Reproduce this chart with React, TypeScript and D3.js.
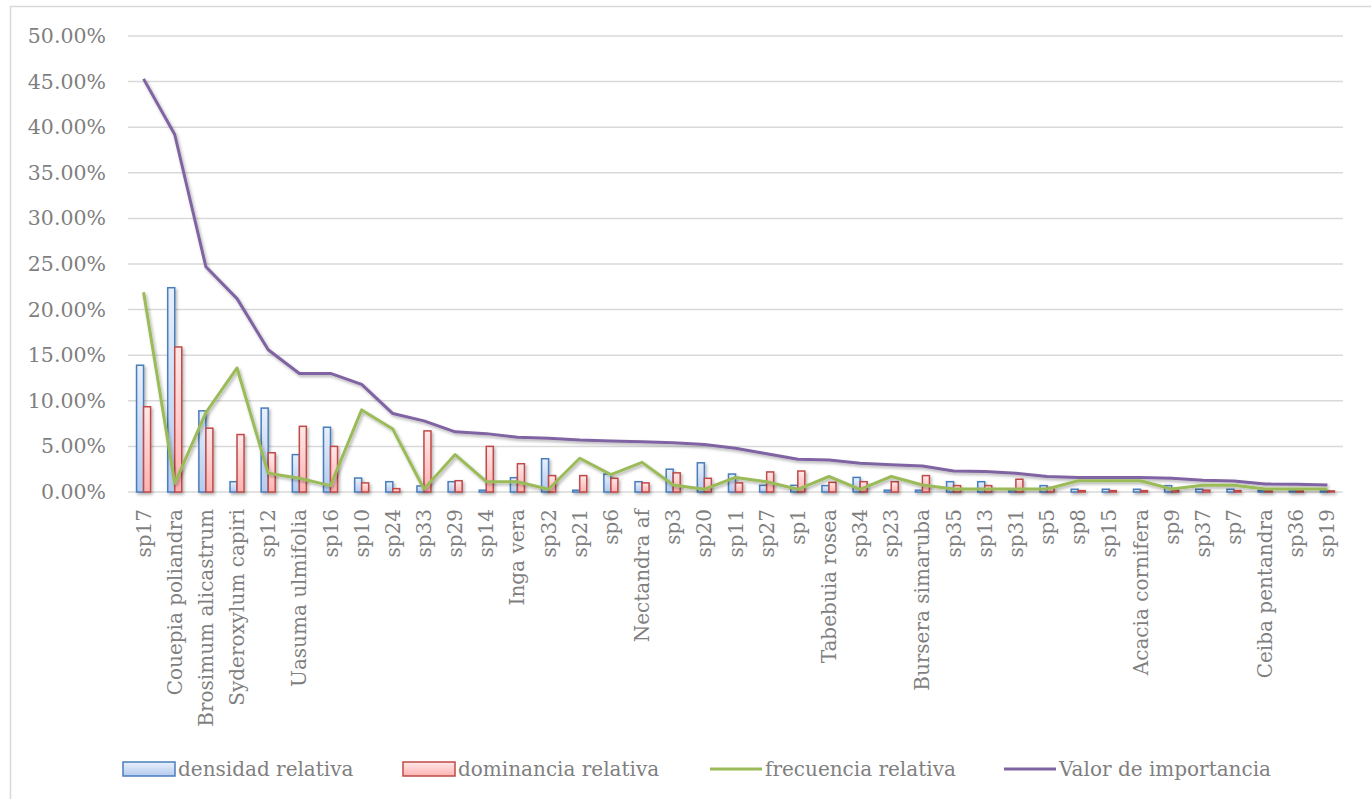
import React from "react";
import * as d3 from "d3";

// Species, ordered by importance value
const categories = [
  "sp17", "Couepia poliandra", "Brosimum alicastrum", "Syderoxylum capiri", "sp12",
  "Uasuma ulmifolia", "sp16", "sp10", "sp24", "sp33", "sp29", "sp14", "Inga vera",
  "sp32", "sp21", "sp6", "Nectandra af", "sp3", "sp20", "sp11", "sp27", "sp1",
  "Tabebuia rosea", "sp34", "sp23", "Bursera simaruba", "sp35", "sp13", "sp31",
  "sp5", "sp8", "sp15", "Acacia cornifera", "sp9", "sp37", "sp7", "Ceiba pentandra",
  "sp36", "sp19",
];

// Values in percent
const densidad = [
  13.9, 22.4, 8.9, 1.13, 9.2, 4.1, 7.1, 1.53, 1.13, 0.66, 1.13, 0.2, 1.57, 3.65, 0.2,
  1.97, 1.13, 2.5, 3.2, 1.97, 0.73, 0.73, 0.7, 1.6, 0.2, 0.2, 1.13, 1.13, 0.2, 0.7,
  0.3, 0.3, 0.3, 0.7, 0.3, 0.3, 0.15, 0.15, 0.15,
];
const dominancia = [
  9.35, 15.9, 7.0, 6.3, 4.3, 7.2, 5.0, 1.0, 0.37, 6.7, 1.24, 5.0, 3.1, 1.8, 1.8, 1.5,
  1.0, 2.1, 1.5, 1.0, 2.2, 2.3, 1.06, 1.13, 1.13, 1.8, 0.7, 0.7, 1.4, 0.5, 0.15, 0.15,
  0.15, 0.2, 0.2, 0.15, 0.15, 0.15, 0.12,
];
const frecuencia = [
  21.9, 0.95, 8.7, 13.6, 2.05, 1.5, 0.7, 9.0, 6.9, 0.33, 4.1, 1.13, 1.13, 0.3, 3.7, 1.9,
  3.25, 0.77, 0.3, 1.6, 1.13, 0.3, 1.7, 0.3, 1.7, 0.77, 0.33, 0.33, 0.33, 0.33, 1.24,
  1.24, 1.24, 0.33, 0.73, 0.73, 0.33, 0.33, 0.33,
];
const valor = [
  45.3, 39.2, 24.7, 21.2, 15.6, 13.0, 13.0, 11.8, 8.6, 7.8, 6.6, 6.4, 6.0, 5.9, 5.7,
  5.6, 5.5, 5.4, 5.2, 4.8, 4.2, 3.6, 3.5, 3.15, 3.0, 2.85, 2.3, 2.25, 2.05, 1.7, 1.6,
  1.6, 1.6, 1.5, 1.28, 1.2, 0.88, 0.85, 0.77,
];
const yTicks = [0, 5, 10, 15, 20, 25, 30, 35, 40, 45, 50];

const legendItems = [
  { label: "densidad relativa", kind: "bar", stroke: "#4a7ebb", grad: "gBlue", x: 123 },
  { label: "dominancia relativa", kind: "bar", stroke: "#be4b48", grad: "gRed", x: 403 },
  { label: "frecuencia relativa", kind: "line", stroke: "#9bbb59", x: 710 },
  { label: "Valor de importancia", kind: "line", stroke: "#8064a2", x: 1004 },
];

const W = 1371;
const H = 799;
const FONT = "'DejaVu Serif', serif";
const TEXT = "#7f7f7f";

export default function App() {
  const x = d3.scaleBand<string>().domain(categories).range([128, 1343]);
  const y = d3.scaleLinear().domain([0, 50]).range([492, 36]);
  const bw = x.bandwidth() * 0.225;
  const cx = (i: number) => (x(categories[i]) as number) + x.bandwidth() / 2;

  const line = d3
    .line<number>()
    .x((_, i) => cx(i))
    .y((v) => y(v));

  return (
    <svg
      width={W}
      height={H}
      style={{ position: "absolute", left: 0, top: 0, background: "#fff" }}
      fontFamily={FONT}
    >
      <defs>
        <linearGradient id="gBlue" x1="0" y1="0" x2="0" y2="1">
          <stop offset="0" stopColor="#e9f0fb" />
          <stop offset="1" stopColor="#b4caef" />
        </linearGradient>
        <linearGradient id="gRed" x1="0" y1="0" x2="0" y2="1">
          <stop offset="0" stopColor="#ffe8e8" />
          <stop offset="1" stopColor="#ffb2b2" />
        </linearGradient>
        <filter id="shadow" x="-20%" y="-20%" width="140%" height="140%">
          <feDropShadow dx="1.5" dy="2" stdDeviation="1.6" floodColor="#000" floodOpacity="0.3" />
        </filter>
      </defs>

      {/* chart frame */}
      <line x1={10.5} y1={6} x2={10.5} y2={H} stroke="#d9d9d9" strokeWidth={1.5} />
      <line x1={10} y1={6.5} x2={W} y2={6.5} stroke="#d9d9d9" strokeWidth={1.5} />

      {/* gridlines and y axis labels */}
      {yTicks.map((t) => (
        <g key={t}>
          <line x1={128} x2={1343} y1={y(t)} y2={y(t)} stroke="#d9d9d9" strokeWidth={1.5} />
          <text
            x={106}
            y={y(t)}
            textAnchor="end"
            dominantBaseline="central"
            fontSize={20.5}
            fill={TEXT}
          >
            {t.toFixed(2) + "%"}
          </text>
        </g>
      ))}

      {/* bars */}
      <g filter="url(#shadow)">
        {densidad.map((v, i) => (
          <rect
            key={"d" + i}
            x={cx(i) - bw}
            y={y(v)}
            width={bw}
            height={y(0) - y(v)}
            fill="url(#gBlue)"
            stroke="#4a7ebb"
            strokeWidth={1.5}
          />
        ))}
        {dominancia.map((v, i) => (
          <rect
            key={"m" + i}
            x={cx(i)}
            y={y(v)}
            width={bw}
            height={y(0) - y(v)}
            fill="url(#gRed)"
            stroke="#be4b48"
            strokeWidth={1.5}
          />
        ))}
      </g>

      {/* lines */}
      <g filter="url(#shadow)">
        <path d={line(frecuencia) ?? ""} fill="none" stroke="#9bbb59" strokeWidth={3} strokeLinejoin="round" />
        <path d={line(valor) ?? ""} fill="none" stroke="#8064a2" strokeWidth={3} strokeLinejoin="round" />
      </g>

      {/* category labels */}
      {categories.map((c, i) => (
        <text
          key={c}
          transform={`translate(${cx(i)},509) rotate(-90)`}
          textAnchor="end"
          dominantBaseline="central"
          fontSize={20}
          fill={TEXT}
        >
          {c}
        </text>
      ))}

      {/* legend */}
      {legendItems.map((it) => (
        <g key={it.label} transform={`translate(${it.x},769)`}>
          {it.kind === "bar" ? (
            <rect x={0} y={-7} width={52} height={14} fill={`url(#${it.grad})`} stroke={it.stroke} strokeWidth={1.5} />
          ) : (
            <line x1={0} x2={52} y1={0} y2={0} stroke={it.stroke} strokeWidth={3} />
          )}
          <text x={55} y={0} dominantBaseline="central" fontSize={20} fill={TEXT}>
            {it.label}
          </text>
        </g>
      ))}
    </svg>
  );
}
